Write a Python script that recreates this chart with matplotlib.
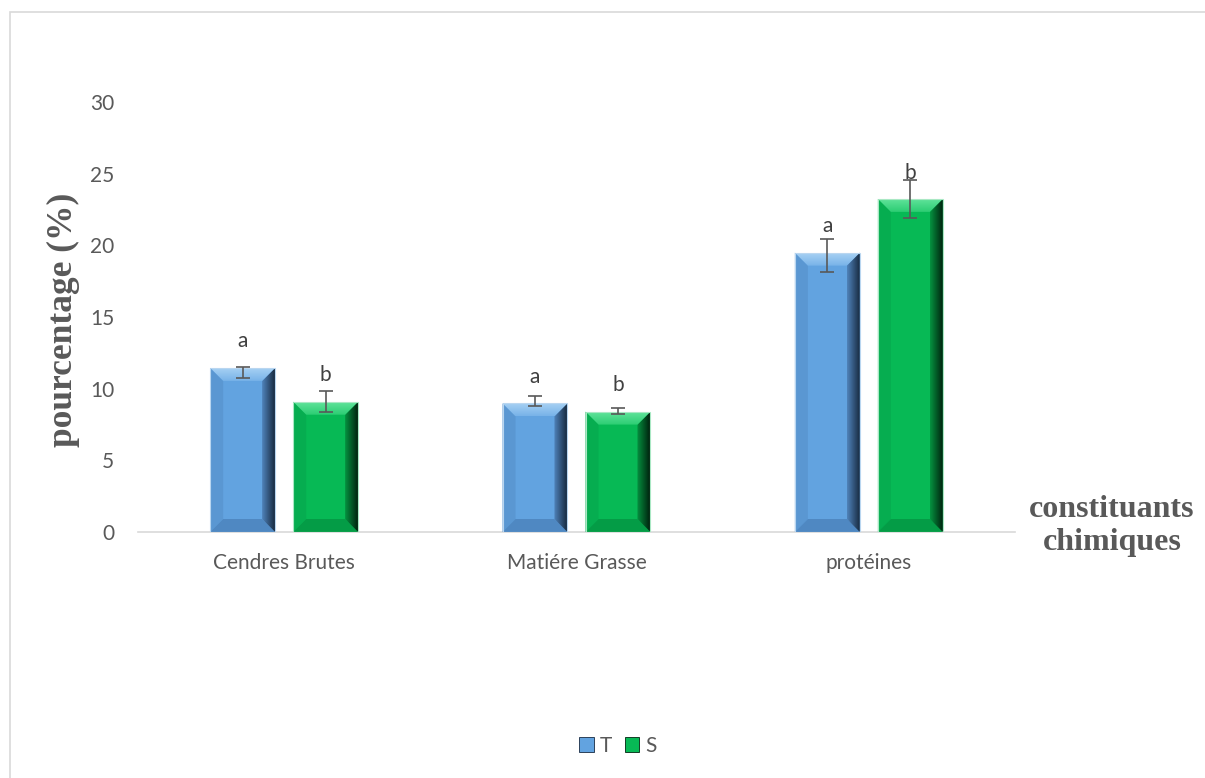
import matplotlib
matplotlib.use("Agg")
import matplotlib.pyplot as plt
import numpy as np
from matplotlib.patches import Polygon, Rectangle, Patch

# chemical composition (%) - T vs S
categories = ['Cendres Brutes', 'Matiére Grasse', 'protéines']
t_vals = [11.45, 8.98, 19.49]
s_vals = [9.09, 8.40, 23.24]
t_err_lo = [0.70, 0.19, 1.33]
t_err_hi = [0.09, 0.51, 0.93]
s_err_lo = [0.72, 0.19, 1.35]
s_err_hi = [0.75, 0.28, 1.32]
t_letters = ['a', 'a', 'a']
s_letters = ['b', 'b', 'b']
yticks = [0, 5, 10, 15, 20, 25, 30]

W, H = 1205, 778
fig = plt.figure(figsize=(W / 100, H / 100), dpi=100)
ax_l, ax_r, ax_b, ax_t = 138, 1015, 532, 102
ax = fig.add_axes([ax_l / W, 1 - ax_b / H, (ax_r - ax_l) / W, (ax_b - ax_t) / H])

xmin, xmax, ymin, ymax = -0.5, 2.5, 0, 30
ax.set_xlim(xmin, xmax)
ax.set_ylim(ymin, ymax)
px_x = (xmax - xmin) / (ax_r - ax_l)
px_y = (ymax - ymin) / (ax_b - ax_t)

styles = {
    'T': dict(base='#62a3e0', top0='#a6d0f4', top1='#78b3e8', left='#5a97d2',
              right0='#4f83ba', right1='#182b42', bottom='#4f88c2', edge='#b9d6f0'),
    'S': dict(base='#07b955', top0='#5fe39a', top1='#2ccd73', left='#06ad50',
              right0='#05913f', right1='#00240f', bottom='#049c46', edge='#a9e8c4'),
}


def hex_rgb(c):
    return np.array(matplotlib.colors.to_rgb(c))


def grad(c0, c1, n, vertical=False):
    t = np.linspace(0, 1, n)[:, None]
    g = hex_rgb(c0)[None, :] * (1 - t) + hex_rgb(c1)[None, :] * t
    return g[:, None, :] if vertical else g[None, :, :]


def bevel_bar(xc, h, w, st):
    x0, x1 = xc - w / 2, xc + w / 2
    bx = 13 * px_x
    by = min(13 * px_y, h / 2)
    ax.add_patch(Rectangle((x0, 0), w, h, facecolor=st['base'], edgecolor='none', zorder=2))
    # left and bottom bevel faces
    ax.add_patch(Polygon([(x0, 0), (x0 + bx, by), (x0 + bx, h - by), (x0, h)],
                         closed=True, facecolor=st['left'], edgecolor='none', zorder=3))
    ax.add_patch(Polygon([(x0, 0), (x1, 0), (x1 - bx, by), (x0 + bx, by)],
                         closed=True, facecolor=st['bottom'], edgecolor='none', zorder=3))
    # right face: shaded towards the outer edge
    rp = Polygon([(x1, 0), (x1, h), (x1 - bx, h - by), (x1 - bx, by)],
                 closed=True, facecolor='none', edgecolor='none')
    ax.add_patch(rp)
    im = ax.imshow(grad(st['right0'], st['right1'], 32), extent=(x1 - bx, x1, 0, h),
                   aspect='auto', interpolation='bilinear', zorder=3)
    im.set_clip_path(rp)
    # top face: highlight
    tp = Polygon([(x0, h), (x1, h), (x1 - bx, h - by), (x0 + bx, h - by)],
                 closed=True, facecolor='none', edgecolor='none')
    ax.add_patch(tp)
    im = ax.imshow(grad(st['top0'], st['top1'], 32, vertical=True), extent=(x0, x1, h - by, h),
                   aspect='auto', interpolation='bilinear', origin='upper', zorder=3)
    im.set_clip_path(tp)
    ax.add_patch(Rectangle((x0, 0), w, h, facecolor='none', edgecolor=st['edge'],
                           linewidth=0.8, zorder=4))


x = np.arange(len(categories))
width = 0.222
off = 0.142
for i in range(len(categories)):
    bevel_bar(x[i] - off, t_vals[i], width, styles['T'])
    bevel_bar(x[i] + off, s_vals[i], width, styles['S'])

ax.errorbar(x - off, t_vals, yerr=[t_err_lo, t_err_hi], fmt='none', ecolor='#595959',
            elinewidth=1.2, capsize=4.7, capthick=1.2, zorder=6)
ax.errorbar(x + off, s_vals, yerr=[s_err_lo, s_err_hi], fmt='none', ecolor='#595959',
            elinewidth=1.2, capsize=4.7, capthick=1.2, zorder=6)

lbl_font = dict(family='Lato', fontsize=15, color='#404040')
for i in range(len(categories)):
    ax.annotate(t_letters[i], (x[i] - off, t_vals[i]), xytext=(0, 19), textcoords='offset points',
                ha='center', va='center', zorder=7, **lbl_font)
    ax.annotate(s_letters[i], (x[i] + off, s_vals[i]), xytext=(0, 19), textcoords='offset points',
                ha='center', va='center', zorder=7, **lbl_font)

ax.set_xlim(xmin, xmax)
ax.set_ylim(ymin, ymax)
ax.set_xticks(x)
ax.set_xticklabels(categories, family='Lato', fontsize=15, color='#595959')
ax.set_yticks(yticks)
ax.set_yticklabels([str(v) for v in yticks], family='Lato', fontsize=15, color='#595959')
ax.tick_params(axis='both', length=0)
ax.tick_params(axis='x', pad=15)
ax.tick_params(axis='y', pad=17)
for s in ['top', 'right', 'left']:
    ax.spines[s].set_visible(False)
ax.spines['bottom'].set_color('#d9d9d9')
ax.spines['bottom'].set_linewidth(1.2)

serif = dict(family='Liberation Serif', fontweight='bold', color='#595959')
fig.text(63 / W, 1 - 320 / H, 'pourcentage (%)', rotation=90, ha='center', va='center',
         fontsize=25.5, **serif)
fig.text(1112 / W, 1 - 526 / H, 'constituants\nchimiques', ha='center', va='center',
         fontsize=23, linespacing=1.2, **serif)

handles = [Patch(facecolor=styles['T']['base'], edgecolor=styles['T']['right1'], linewidth=0.6, label='T'),
           Patch(facecolor=styles['S']['base'], edgecolor=styles['S']['right1'], linewidth=0.6, label='S')]
leg = fig.legend(handles=handles, loc='center', bbox_to_anchor=(618 / W, 1 - 746 / H), ncol=2,
                 frameon=False, handlelength=0.7, handleheight=0.7, handletextpad=0.3,
                 columnspacing=0.6, prop={'family': 'Lato', 'size': 15})
for t in leg.get_texts():
    t.set_color('#595959')

# chart area frame
fig.add_artist(Rectangle((10 / W, -0.05), 1.1, 1 - 12 / H + 0.05, transform=fig.transFigure,
                         fill=False, edgecolor='#d9d9d9', linewidth=1.2))

fig.savefig('out.png', dpi=100)
